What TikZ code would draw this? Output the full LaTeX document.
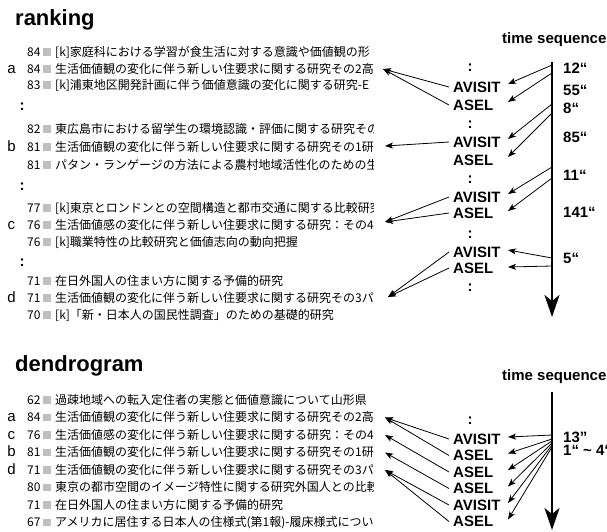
\documentclass[tikz,border=0pt]{standalone}
\usepackage{fontspec}
\setmainfont{Liberation Sans}
\newfontfamily\jp{Noto Sans CJK JP}
\usetikzlibrary{arrows.meta,calc}
\begin{document}
\begin{tikzpicture}[x=1pt,y=-1pt,
  ttl/.style={font=\fontsize{22}{22}\selectfont\bfseries, anchor=base west, inner sep=0},
  tseq/.style={font=\fontsize{15}{15}\selectfont\bfseries, anchor=west, inner sep=0, text height=10.7pt, text depth=0pt},
  evlab/.style={font=\fontsize{15}{15}\selectfont\bfseries, anchor=west, inner xsep=4pt, inner ysep=0pt, text height=10.7pt, text depth=0pt},
  tmlab/.style={font=\fontsize{15}{15}\selectfont\bfseries, anchor=west, inner sep=0, text height=10.7pt, text depth=0pt},
  evdot/.style={font=\fontsize{15}{15}\selectfont\bfseries, inner sep=0, text height=7.8pt, text depth=0pt},
  rowlab/.style={font=\fontsize{15}{15}\selectfont, inner sep=0, text height=8.8pt, text depth=0pt},
  numlab/.style={font=\jp\fontsize{12}{12}\selectfont, anchor=west, inner sep=0, text height=8.8pt, text depth=0pt},
  sqbox/.style={fill=black!25, minimum size=7.5pt, inner sep=0},
  rowtxt/.style={font=\jp\fontsize{12}{12}\selectfont, anchor=west, inner sep=0, text height=8.8pt, text depth=0pt},
  rowdot/.style={font=\fontsize{15}{15}\selectfont\bfseries, inner sep=0, text height=7.3pt, text depth=0pt},
  link/.style={draw, line width=0.8pt, -{Stealth[length=8pt,width=6pt,inset=2pt]}},
  timeaxis/.style={draw, line width=2.6pt, -{Stealth[length=22pt,width=15pt,inset=6pt]}}
]
\useasboundingbox (0,0) rectangle (607,531);

% ---------------- ranking ----------------
\node[ttl] (rk) at (15,25) {ranking};

\node[numlab] (n1) at (27,52) {84};   \node[sqbox] (s1) at (47,52) {};
\node[rowlab] (la) at (11.5,69) {a};
\node[numlab] (n2) at (27,69) {84};   \node[sqbox] (s2) at (47,69) {};
\node[numlab] (n3) at (27,85) {83};   \node[sqbox] (s3) at (47,85) {};
\node[rowdot] (k1) at (22,107) {:};
\node[numlab] (n4) at (27,129) {82};  \node[sqbox] (s4) at (47,129) {};
\node[rowlab] (lb) at (11.5,147) {b};
\node[numlab] (n5) at (27,147) {81};  \node[sqbox] (s5) at (47,147) {};
\node[numlab] (n6) at (27,165) {81};  \node[sqbox] (s6) at (47,165) {};
\node[rowdot] (k2) at (22,187) {:};
\node[numlab] (n7) at (27,208) {77};  \node[sqbox] (s7) at (47,208) {};
\node[rowlab] (lc) at (11.5,225) {c};
\node[numlab] (n8) at (27,225) {76};  \node[sqbox] (s8) at (47,225) {};
\node[numlab] (n9) at (27,242) {76};  \node[sqbox] (s9) at (47,242) {};
\node[rowdot] (k3) at (22,263) {:};
\node[numlab] (n10) at (27,281) {71}; \node[sqbox] (s10) at (47,281) {};
\node[rowlab] (ld) at (11.5,298) {d};
\node[numlab] (n11) at (27,298) {71}; \node[sqbox] (s11) at (47,298) {};
\node[numlab] (n12) at (27,315) {70}; \node[sqbox] (s12) at (47,315) {};

% ---------------- dendrogram ----------------
\node[ttl] (dg) at (15,371) {dendrogram};
\node[numlab] (d1) at (27,400) {62};   \node[sqbox] (q1) at (47,400) {};
\node[rowlab] (da) at (11.5,417.5) {a};
\node[numlab] (d2) at (27,417.5) {84}; \node[sqbox] (q2) at (47,417.5) {};
\node[rowlab] (dc) at (11.5,435) {c};
\node[numlab] (d3) at (27,435) {76};   \node[sqbox] (q3) at (47,435) {};
\node[rowlab] (db) at (11.5,452.5) {b};
\node[numlab] (d4) at (27,452.5) {81}; \node[sqbox] (q4) at (47,452.5) {};
\node[rowlab] (dd) at (11.5,470) {d};
\node[numlab] (d5) at (27,470) {71};   \node[sqbox] (q5) at (47,470) {};
\node[numlab] (d6) at (27,487.5) {80}; \node[sqbox] (q6) at (47,487.5) {};
\node[numlab] (d7) at (27,505) {71};   \node[sqbox] (q7) at (47,505) {};
\node[numlab] (d8) at (27,522.5) {67}; \node[sqbox] (q8) at (47,522.5) {};

\begin{scope}
\clip (0,0) rectangle (373,531);
\node[rowtxt] (t1) at (55,52) {[k]家庭科における学習が食生活に対する意識や価値観の形};
\node[rowtxt] (t2) at (55,69) {生活価値観の変化に伴う新しい住要求に関する研究その2高};
\node[rowtxt] (t3) at (55,85) {[k]浦東地区開発計画に伴う価値意識の変化に関する研究-E};
\node[rowtxt] (t4) at (55,129) {東広島市における留学生の環境認識・評価に関する研究その};
\node[rowtxt] (t5) at (55,147) {生活価値観の変化に伴う新しい住要求に関する研究その1研};
\node[rowtxt] (t6) at (55,165) {パタン・ランゲージの方法による農村地域活性化のための生};
\node[rowtxt] (t7) at (55,208) {[k]東京とロンドンとの空間構造と都市交通に関する比較研究};
\node[rowtxt] (t8) at (55,225) {生活価値感の変化に伴う新しい住要求に関する研究：その4.};
\node[rowtxt] (t9) at (55,242) {[k]職業特性の比較研究と価値志向の動向把握};
\node[rowtxt] (t10) at (55,281) {在日外国人の住まい方に関する予備的研究};
\node[rowtxt] (t11) at (55,298) {生活価値観の変化に伴う新しい住要求に関する研究その3パ};
\node[rowtxt] (t12) at (55,315) {[k]「新・日本人の国民性調査」のための基礎的研究};
\node[rowtxt] (u1) at (55,400) {過疎地域への転入定住者の実態と価値意識について山形県};
\node[rowtxt] (u2) at (55,417.5) {生活価値観の変化に伴う新しい住要求に関する研究その2高};
\node[rowtxt] (u3) at (55,435) {生活価値感の変化に伴う新しい住要求に関する研究：その4.};
\node[rowtxt] (u4) at (55,452.5) {生活価値観の変化に伴う新しい住要求に関する研究その1研};
\node[rowtxt] (u5) at (55,470) {生活価値観の変化に伴う新しい住要求に関する研究その3パ};
\node[rowtxt] (u6) at (55,487.5) {東京の都市空間のイメージ特性に関する研究外国人との比較};
\node[rowtxt] (u7) at (55,505) {在日外国人の住まい方に関する予備的研究};
\node[rowtxt] (u8) at (55,522.5) {アメリカに居住する日本人の住様式(第1報)-履床様式について};
\end{scope}

% ---------------- ranking: right part ----------------
\node[tseq] (ts1) at (502,38) {time sequence};
\coordinate (ax1t) at (552,62);
\coordinate (ax1b) at (552,317);
\draw[timeaxis] (ax1t) -- (ax1b);
\coordinate (tipx) at (508,0);

\node[tmlab] (tm1) at (563,68) {12“};
\node[tmlab] (tm2) at (563,90) {55“};
\node[tmlab] (tm3) at (563,108) {8“};
\node[tmlab] (tm4) at (563,137) {85“};
\node[tmlab] (tm5) at (563,175) {11“};
\node[tmlab] (tm6) at (563,212) {141“};
\node[tmlab] (tm7) at (563,258) {5“};

\node[evdot] (m1) at (470,68) {:};
\node[evlab] (av1) at (449,87) {AVISIT};
\node[evlab] (as1) at (449,105) {ASEL};
\node[evdot] (m2) at (470,125) {:};
\node[evlab] (av2) at (449,142) {AVISIT};
\node[evlab] (as2) at (449,160) {ASEL};
\node[evdot] (m3) at (470,180) {:};
\node[evlab] (av3) at (449,197) {AVISIT};
\node[evlab] (as3) at (449,213) {ASEL};
\node[evdot] (m4) at (470,235) {:};
\node[evlab] (av4) at (449,252) {AVISIT};
\node[evlab] (as4) at (449,268) {ASEL};
\node[evdot] (m5) at (470,288) {:};

\coordinate (e1) at (552,65);
\coordinate (e2) at (552,73);
\coordinate (e3) at (552,104);
\coordinate (e4) at (552,113);
\coordinate (e5) at (552,167);
\coordinate (e6) at (552,178);
\coordinate (e7) at (552,258);
\coordinate (e8) at (552,266);
\draw[link] (e1) -- ($(av1 -| tipx)+(0,-3)$);
\draw[link] (e2) -- ($(as1 -| tipx)+(0,-3)$);
\draw[link] (e3) -- ($(av2 -| tipx)+(0,-3)$);
\draw[link] (e4) -- ($(as2 -| tipx)+(0,-3)$);
\draw[link] (e5) -- ($(av3 -| tipx)+(0,-3)$);
\draw[link] (e6) -- ($(as3 -| tipx)+(0,-2)$);
\draw[link] (e7) -- ($(av4 -| tipx)+(0,-2)$);
\draw[link] (e8) -- ($(as4 -| tipx)+(0,-1)$);

\coordinate (pa) at (383,69);
\coordinate (pb) at (385,146);
\coordinate (pc) at (385,222);
\coordinate (pd) at (388,297);
\draw[link] (av1.west) -- (pa);
\draw[link] (as1.west) -- (pa);
\draw[link] (av2.west) -- (pb);
\draw[link] (av3.west) -- (pc);
\draw[link] (as3.west) -- (pc);
\draw[link] (av4.west) -- (pd);
\draw[link] (as4.west) -- (pd);

% ---------------- dendrogram: right part ----------------
\node[tseq] (ts2) at (502,375) {time sequence};
\coordinate (ax2t) at (552,392);
\coordinate (ax2b) at (552,530);
\draw[timeaxis] (ax2t) -- (ax2b);

\node[tmlab] (tm8) at (563,437) {13”};
\node[tmlab] (tm9) at (563,450.5) {1“ \textasciitilde\ 4“};

\node[evdot] (dm1) at (470,421) {:};
\node[evlab] (dv1) at (449,439) {AVISIT};
\node[evlab] (ds1) at (449,455.5) {ASEL};
\node[evlab] (ds2) at (449,472) {ASEL};
\node[evlab] (ds3) at (449,488.5) {ASEL};
\node[evlab] (dv2) at (449,505) {AVISIT};
\node[evlab] (ds4) at (449,521.5) {ASEL};

\coordinate (f1) at (552,435);
\coordinate (f2) at (552,439);
\coordinate (f3) at (552,441);
\coordinate (f4) at (552,443);
\coordinate (f5) at (552,445);
\coordinate (f6) at (552,447);
\draw[link] (f1) -- ($(dv1 -| tipx)+(0,-2)$);
\draw[link] (f2) -- ($(ds1 -| tipx)+(0,-2)$);
\draw[link] (f3) -- ($(ds2 -| tipx)+(0,-2)$);
\draw[link] (f4) -- ($(ds3 -| tipx)+(0,-2)$);
\draw[link] (f5) -- ($(dv2 -| tipx)+(0,-2)$);
\draw[link] (f6) -- ($(ds4 -| tipx)+(0,-2)$);

\coordinate (ga) at (385,417.5);
\coordinate (gc) at (385,435);
\coordinate (gb) at (385,452.5);
\coordinate (gd) at (385,470);
\draw[link] (dv1.west) -- (ga);
\draw[link] (ds1.west) -- (ga);
\draw[link] (ds2.west) -- (gc);
\draw[link] (ds3.west) -- (gb);
\draw[link] (dv2.west) -- (gd);
\draw[link] (ds4.west) -- (gd);
\end{tikzpicture}
\end{document}
